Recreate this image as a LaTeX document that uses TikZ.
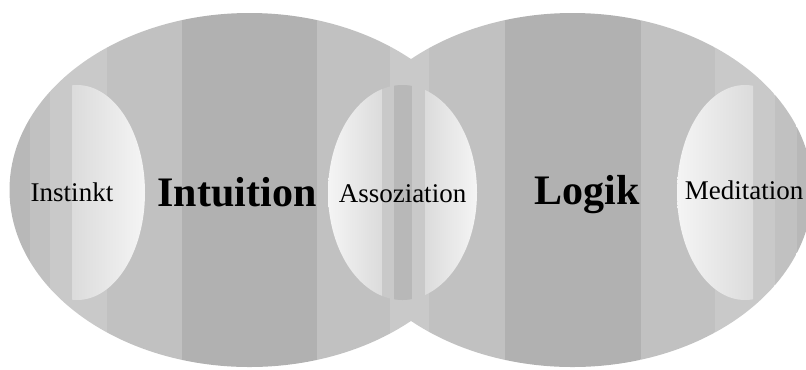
\documentclass[tikz,border=0pt]{standalone}
\usepackage{fontspec}
\setmainfont{Liberation Serif}
\usepackage{xcolor}
\usepackage{tikz}

\definecolor{bandedge}{gray}{0.72}
\definecolor{bandmid}{gray}{0.755}
\definecolor{bandlight}{gray}{0.79}
\definecolor{banddark}{gray}{0.695}
\definecolor{glowhi}{gray}{0.96}
\definecolor{glowlo}{gray}{0.86}

\begin{document}
\begin{tikzpicture}[x=0.75pt, y=-0.75pt,
    biglabel/.style={anchor=base, font=\bfseries\fontsize{31.5}{36}\selectfont},
    smalllabel/.style={anchor=base, font=\fontsize{20.25}{24}\selectfont}]
    \useasboundingbox (0,0) rectangle (806,369);

    \begin{scope}
        \clip (249.5,190) ellipse [x radius=180pt, y radius=132.75pt]
              (572.5,190) ellipse [x radius=180pt, y radius=132.75pt];
        \foreach \xa/\xb/\bandcol in {0/30/bandedge, 30/50/bandmid, 50/107/bandlight,
                107/182/bandmid, 182/317/banddark, 317/390/bandmid, 390/429/bandlight,
                429/505/bandmid, 505/641/banddark, 641/715/bandmid, 715/775/bandlight,
                775/797/bandmid, 797/806/bandedge}
            \fill[\bandcol] (\xa,0) rectangle (\xb,369);

        \begin{scope}
            \clip (77,192.5) ellipse [x radius=51pt, y radius=80.625pt];
            \shade[left color=glowlo, right color=glowhi] (72,0) rectangle (145,369);
        \end{scope}

        \begin{scope}
            \clip (402.5,192.5) ellipse [x radius=55.875pt, y radius=80.625pt];
            \shade[left color=glowhi, right color=glowlo] (328,0) rectangle (382,369);
            \fill[bandlight] (382,0) rectangle (394,369);
            \fill[bandedge] (394,0) rectangle (412,369);
            \fill[bandlight] (412,0) rectangle (425,369);
            \shade[left color=glowlo, right color=glowhi] (425,0) rectangle (477,369);
        \end{scope}

        \begin{scope}
            \clip (745,192.5) ellipse [x radius=51pt, y radius=80.625pt];
            \shade[left color=glowhi, right color=glowlo] (677,0) rectangle (753,369);
        \end{scope}
    \end{scope}

    \node[smalllabel] (instinkt) at (72,201) {Instinkt};
    \node[biglabel] (intuition) at (237,206) {Intuition};
    \node[smalllabel] (assoziation) at (402.5,202) {Assoziation};
    \node[biglabel] (logik) at (587,204) {Logik};
    \node[smalllabel] (meditation) at (744,199) {Meditation};
\end{tikzpicture}
\end{document}
